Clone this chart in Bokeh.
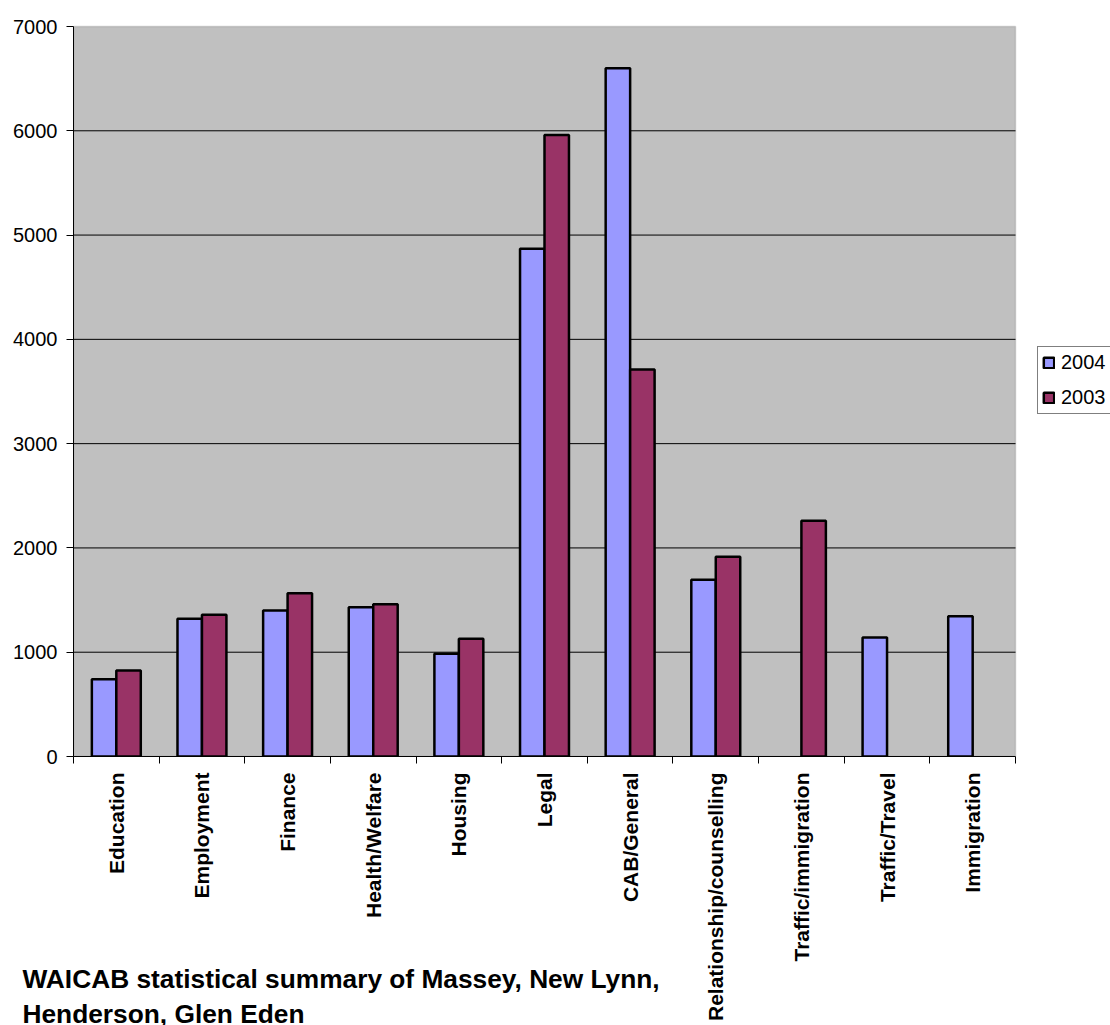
import math
import numpy as np
from bokeh.plotting import figure
from bokeh.models import (FixedTicker, Range1d, Legend, LegendItem, Title, BoxAnnotation,
                          ColumnDataSource)
from bokeh.embed import file_html
from bokeh.resources import INLINE

categories = ["Education", "Employment", "Finance", "Health/Welfare", "Housing", "Legal",
              "CAB/General", "Relationship/counselling", "Traffic/immigration",
              "Traffic/Travel", "Immigration"]
v2004 = [740, 1320, 1400, 1430, 985, 4870, 6600, 1695, None, 1140, 1345]
v2003 = [825, 1360, 1565, 1460, 1130, 5960, 3710, 1915, 2260, None, None]
series_names = ["2004", "2003"]
y_ticks = [0, 1000, 2000, 3000, 4000, 5000, 6000, 7000]
title_text = "WAICAB statistical summary of Massey, New Lynn,\nHenderson, Glen Eden"

FONT = "Liberation Sans"
C2004 = "#9999FF"
C2003 = "#993366"

n = len(categories)
y_max = y_ticks[-1]
bw = 1 / 3.5
idx = np.arange(n)
to_arr = lambda v: np.array([np.nan if x is None else x for x in v], dtype=float)

src04 = ColumnDataSource(dict(x=idx + 0.5 - bw / 2, top=to_arr(v2004)))
src03 = ColumnDataSource(dict(x=idx + 0.5 + bw / 2, top=to_arr(v2003)))
grid_y = y_ticks[1:-1]
grid_src = ColumnDataSource(dict(x0=[0] * len(grid_y), x1=[n] * len(grid_y), y=grid_y))

# plot area 73..1015 px wide (942) and 26..756 px tall (730); the frame is
# extended to the right edge so the legend can sit beside the plot area
PLOT_W, PLOT_H = 942, 730
FRAME_W = 1110 - 73
TOP_PAD = 6
p = figure(width=1110, height=1025,
           x_range=Range1d(0, n * FRAME_W / PLOT_W),
           y_range=Range1d(0, y_max * (PLOT_H + TOP_PAD) / PLOT_H),
           output_backend="svg", toolbar_location=None,
           min_border_left=73, min_border_right=0, min_border_top=26 - TOP_PAD,
           min_border_bottom=269)
p.background_fill_color = "white"
p.border_fill_color = "white"
p.outline_line_color = None

plot_area = BoxAnnotation(left=0, right=n, bottom=0, top=y_max, fill_color="#C0C0C0",
                          fill_alpha=1, line_color="#808080", line_width=1.5, level="image")
p.add_layout(plot_area)

# horizontal gridlines limited to the plot area
p.segment(x0="x0", x1="x1", y0="y", y1="y", source=grid_src, line_color="black",
          line_width=1)

r1 = p.vbar(x="x", top="top", bottom=0, width=bw, source=src04, fill_color=C2004,
            line_color="black", line_width=2.5)
r2 = p.vbar(x="x", top="top", bottom=0, width=bw, source=src03, fill_color=C2003,
            line_color="black", line_width=2.5)

# x axis
xa = p.xaxis[0]
xa.bounds = (0, n)
xa.ticker = FixedTicker(ticks=[i + 0.5 for i in range(n)], minor_ticks=list(range(n + 1)))
xa.major_label_overrides = {i + 0.5: c for i, c in enumerate(categories)}
xa.major_label_orientation = math.pi / 2
xa.major_label_text_font = FONT
xa.major_label_text_font_size = "21px"
xa.major_label_text_font_style = "bold"
xa.major_label_text_color = "black"
xa.major_tick_out = 0
xa.major_tick_in = 0
xa.minor_tick_out = 7
xa.minor_tick_in = 0
xa.minor_tick_line_color = "black"
xa.major_label_standoff = 9
xa.axis_line_color = "black"
xa.axis_line_width = 1

# y axis
ya = p.yaxis[0]
ya.bounds = (0, y_max)
ya.ticker = FixedTicker(ticks=y_ticks, minor_ticks=[])
ya.major_label_text_font = FONT
ya.major_label_text_font_size = "20px"
ya.major_label_text_color = "black"
ya.major_tick_out = 7
ya.major_tick_in = 0
ya.major_tick_line_color = "black"
ya.minor_tick_out = 0
ya.minor_tick_in = 0
ya.major_label_standoff = 9
ya.axis_line_color = "black"

p.xgrid.visible = False
p.ygrid.visible = False

legend = Legend(items=[LegendItem(label=series_names[0], renderers=[r1]),
                       LegendItem(label=series_names[1], renderers=[r2])],
                location=(964, 342))
legend.border_line_color = "black"
legend.border_line_width = 1
legend.background_fill_color = "white"
legend.background_fill_alpha = 1
legend.label_text_font = FONT
legend.label_text_font_size = "20px"
legend.label_text_color = "black"
legend.glyph_width = 13
legend.glyph_height = 13
legend.label_standoff = 6
legend.padding = 4
legend.spacing = 12
legend.margin = 0
p.add_layout(legend)

title = Title(text=title_text, align="left", offset=-51, standoff=-121,
              vertical_align="top", text_font=FONT, text_font_size="26.3px",
              text_font_style="bold", text_color="black", text_line_height=1.15)
p.add_layout(title, "below")

open("out.html", "w").write(file_html(p, INLINE))
